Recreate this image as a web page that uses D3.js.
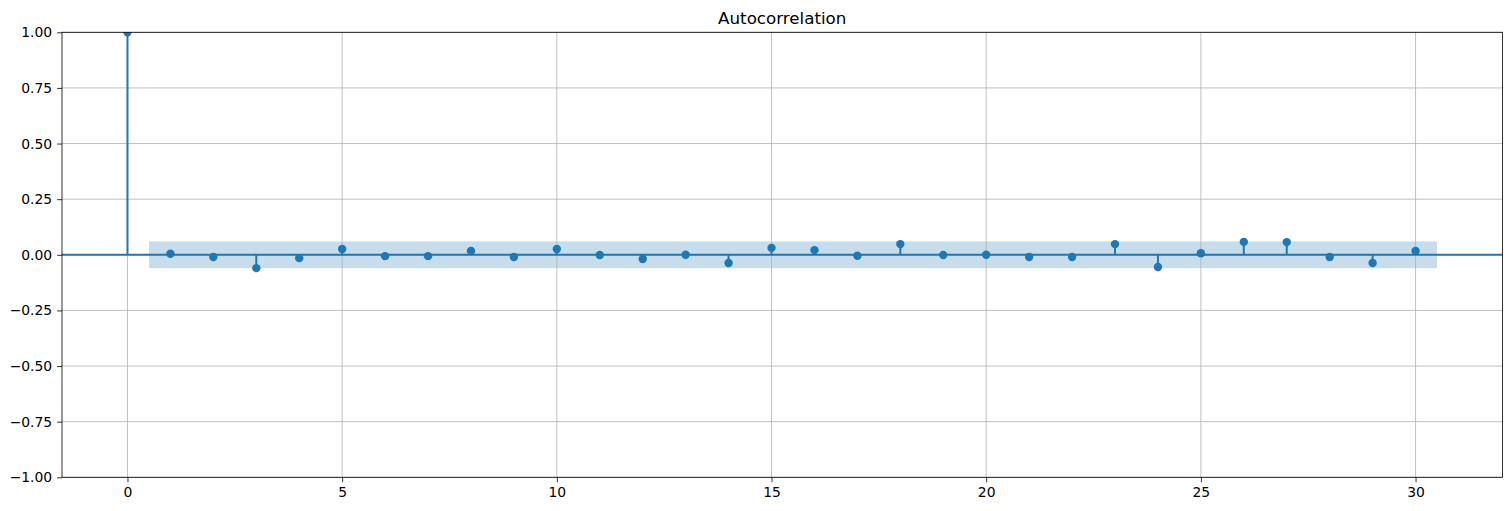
<!DOCTYPE html>
<html>
<head>
<meta charset="utf-8">
<script src="https://cdn.jsdelivr.net/npm/d3@7"></script>
<style>
  html, body { margin: 0; padding: 0; background: #fff; }
  svg { display: block; }
  text { font-family: "DejaVu Sans", sans-serif; fill: #000; }
</style>
</head>
<body>
<svg id="chart" width="1511" height="511"></svg>
<script>
// ---- data ----
const lags = [0,1,2,3,4,5,6,7,8,9,10,11,12,13,14,15,16,17,18,19,20,21,22,23,24,25,26,27,28,29,30];
const acfValues = [1.0, 0.005, -0.010, -0.060, -0.015, 0.026, -0.006, -0.006, 0.017, -0.010,
                   0.026, -0.001, -0.019, 0.000, -0.037, 0.031, 0.021, -0.004, 0.048, -0.001,
                   0.000, -0.010, -0.010, 0.048, -0.055, 0.007, 0.058, 0.057, -0.010, -0.037, 0.017];
const confBand = 0.060;
const bandLagStart = 0.5, bandLagEnd = 30.5;
const xTicks = [0, 5, 10, 15, 20, 25, 30];
const yTicks = [-1.00, -0.75, -0.50, -0.25, 0.00, 0.25, 0.50, 0.75, 1.00];
const titleText = "Autocorrelation";

// ---- layout ----
const svg = d3.select("#chart");
const L = 62, R = 1502.5, T = 32.3, B = 477.3;
const C0 = "#1f77b4";

const x = d3.scaleLinear().domain([-1.525, 32.025]).range([L, R]);
const y = d3.scaleLinear().domain([-1, 1]).range([B, T]);

svg.append("defs").append("clipPath").attr("id", "clip")
  .append("rect").attr("x", L).attr("y", T).attr("width", R - L).attr("height", B - T);

// band
svg.append("rect")
  .attr("x", x(bandLagStart)).attr("width", x(bandLagEnd) - x(bandLagStart))
  .attr("y", y(confBand)).attr("height", y(-confBand) - y(confBand))
  .attr("fill", C0).attr("fill-opacity", 0.25);

// grid
const grid = svg.append("g");
xTicks.forEach(t => grid.append("line")
  .attr("x1", x(t)).attr("x2", x(t)).attr("y1", T).attr("y2", B)
  .attr("stroke", "#b0b0b0").attr("stroke-width", 0.8));
yTicks.forEach(t => grid.append("line")
  .attr("x1", L).attr("x2", R).attr("y1", y(t)).attr("y2", y(t))
  .attr("stroke", "#b0b0b0").attr("stroke-width", 0.8));

const plot = svg.append("g").attr("clip-path", "url(#clip)");
// stems
plot.selectAll("line.stem").data(lags).join("line").attr("class", "stem")
  .attr("x1", d => x(d)).attr("x2", d => x(d))
  .attr("y1", y(0)).attr("y2", (d, i) => y(acfValues[i]))
  .attr("stroke", C0).attr("stroke-width", 2);
// zero line
plot.append("line").attr("x1", L).attr("x2", R).attr("y1", y(0)).attr("y2", y(0))
  .attr("stroke", C0).attr("stroke-width", 2);
// markers
plot.selectAll("circle").data(lags).join("circle")
  .attr("cx", d => x(d)).attr("cy", (d, i) => y(acfValues[i]))
  .attr("r", 4.2).attr("fill", C0);

// axes
const fmtY = d => d3.format(".2f")(d).replace("-", "\u2212");
const xAxis = svg.append("g").attr("transform", `translate(0,${B})`)
  .call(d3.axisBottom(x).tickValues(xTicks).tickFormat(d3.format("d")).tickSizeOuter(0).tickSize(4.9).tickPadding(4.9));
const yAxis = svg.append("g").attr("transform", `translate(${L},0)`)
  .call(d3.axisLeft(y).tickValues(yTicks).tickFormat(fmtY).tickSizeOuter(0).tickSize(4.9).tickPadding(4.9));
[xAxis, yAxis].forEach(g => {
  g.select(".domain").remove();
  g.selectAll("line").attr("stroke", "#000").attr("stroke-width", 0.8);
  g.selectAll("text").style("font-family", "DejaVu Sans, sans-serif").style("font-size", "13.9px").attr("fill", "#000");
});

// spines
svg.append("rect").attr("x", L).attr("y", T).attr("width", R - L).attr("height", B - T)
  .attr("fill", "none").attr("stroke", "#000").attr("stroke-width", 0.8);

// title
svg.append("text").attr("x", (L + R) / 2).attr("y", T - 8.5)
  .attr("text-anchor", "middle").style("font-size", "16.7px").text(titleText);
</script>
</body>
</html>
